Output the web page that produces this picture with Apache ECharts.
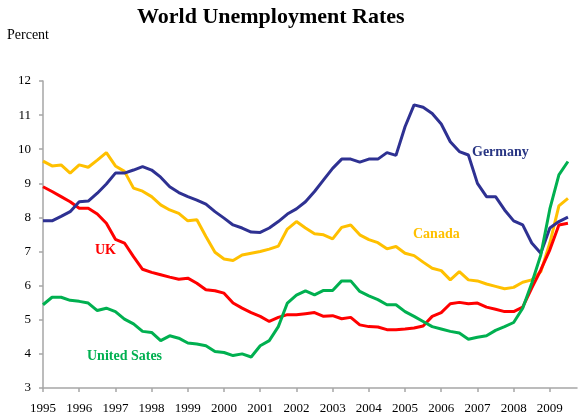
<!DOCTYPE html>
<html>
<head>
<meta charset="utf-8">
<script src="https://cdn.jsdelivr.net/npm/echarts@6/dist/echarts.min.js"></script>
<style>
html,body{margin:0;padding:0;background:#fff;}
#chart{width:579px;height:415px;}
</style>
</head>
<body>
<div id="chart"></div>
<script>
const quarters = [
 '1995Q1','1995Q2','1995Q3','1995Q4','1996Q1','1996Q2','1996Q3','1996Q4',
 '1997Q1','1997Q2','1997Q3','1997Q4','1998Q1','1998Q2','1998Q3','1998Q4',
 '1999Q1','1999Q2','1999Q3','1999Q4','2000Q1','2000Q2','2000Q3','2000Q4',
 '2001Q1','2001Q2','2001Q3','2001Q4','2002Q1','2002Q2','2002Q3','2002Q4',
 '2003Q1','2003Q2','2003Q3','2003Q4','2004Q1','2004Q2','2004Q3','2004Q4',
 '2005Q1','2005Q2','2005Q3','2005Q4','2006Q1','2006Q2','2006Q3','2006Q4',
 '2007Q1','2007Q2','2007Q3','2007Q4','2008Q1','2008Q2','2008Q3','2008Q4',
 '2009Q1','2009Q2','2009Q3','2009Q4'
];
const germany = [
 7.90,7.90,8.03,8.17,8.46,8.48,8.71,8.98,
 9.30,9.30,9.39,9.49,9.39,9.18,8.90,8.73,
 8.61,8.51,8.39,8.17,7.98,7.78,7.69,7.57,
 7.56,7.69,7.88,8.10,8.25,8.46,8.76,9.10,
 9.44,9.71,9.71,9.62,9.71,9.71,9.90,9.82,
 10.66,11.30,11.23,11.05,10.74,10.22,9.93,9.83,
 9.00,8.61,8.61,8.22,7.90,7.78,7.25,6.95,
 7.69,7.88,8.01,null
];
const canada = [
 9.65,9.51,9.54,9.30,9.54,9.47,9.68,9.90,
 9.51,9.35,8.86,8.77,8.61,8.37,8.22,8.12,
 7.90,7.93,7.44,6.98,6.78,6.74,6.90,6.95,
 7.00,7.07,7.16,7.66,7.88,7.69,7.52,7.49,
 7.37,7.71,7.78,7.49,7.35,7.26,7.08,7.15,
 6.95,6.88,6.69,6.51,6.44,6.17,6.41,6.17,
 6.14,6.05,5.98,5.91,5.95,6.10,6.17,6.41,
 7.25,8.34,8.56,null
];
const uk = [
 8.90,8.76,8.61,8.46,8.27,8.27,8.10,7.83,
 7.36,7.25,6.85,6.48,6.39,6.32,6.25,6.19,
 6.22,6.07,5.88,5.85,5.78,5.49,5.34,5.21,
 5.10,4.95,5.07,5.15,5.15,5.18,5.21,5.10,
 5.12,5.03,5.07,4.85,4.80,4.79,4.71,4.71,
 4.73,4.76,4.82,5.10,5.21,5.47,5.51,5.47,
 5.49,5.37,5.31,5.24,5.24,5.37,5.93,6.46,
 7.05,7.78,7.83,null
];
const unitedStates = [
 5.44,5.66,5.66,5.57,5.54,5.49,5.27,5.34,
 5.24,5.02,4.88,4.66,4.63,4.39,4.53,4.46,
 4.32,4.29,4.24,4.07,4.04,3.95,4.00,3.91,
 4.24,4.39,4.80,5.49,5.72,5.85,5.73,5.86,
 5.86,6.14,6.14,5.83,5.70,5.59,5.44,5.44,
 5.24,5.10,4.95,4.80,4.73,4.66,4.61,4.43,
 4.49,4.53,4.69,4.80,4.92,5.34,6.07,6.90,
 8.25,9.25,9.64,null
];
const yTicks = [3,4,5,6,7,8,9,10,11,12];

const NAVY = '#2E3192', YEL = '#FFC000', RED = '#FF0000', GRN = '#00B050';
const serif = '"Liberation Serif","Times New Roman",serif';
const axisGrey = '#A6A6A6';

const chart = echarts.init(document.getElementById('chart'), null, {renderer:'canvas'});
function mk(name, data, color){
  return {name, type:'line', data, symbol:'none', smooth:false, connectNulls:false,
    lineStyle:{color, width:3}, itemStyle:{color}, z:2};
}
const option = {
  animation:false,
  backgroundColor:'#fff',
  grid:{left:43, right:2, top:81, bottom:27, containLabel:false},
  xAxis:{
    type:'category', data:quarters, boundaryGap:false,
    axisLine:{lineStyle:{color:axisGrey, width:1.5}},
    axisTick:{length:4, interval:(i)=>i%4===0, lineStyle:{color:axisGrey, width:1.5}},
    axisLabel:{interval:(i)=>i%4===0, formatter:(v)=>v.slice(0,4), margin:14,
      fontFamily:serif, fontSize:13, color:'#000'},
    splitLine:{show:false}
  },
  yAxis:{
    type:'value', min:yTicks[0], max:yTicks[yTicks.length-1], interval:1,
    axisLine:{show:true, lineStyle:{color:axisGrey, width:1.5}},
    axisTick:{show:true, length:4, lineStyle:{color:axisGrey, width:1.5}},
    axisLabel:{margin:12, fontFamily:serif, fontSize:13, color:'#000'},
    splitLine:{show:false}
  },
  series:[
    mk('Canada', canada, YEL),
    mk('UK', uk, RED),
    mk('Germany', germany, NAVY),
    mk('United States', unitedStates, GRN)
  ],
  graphic:[
    {type:'text', left:137, top:6, style:{text:'World Unemployment Rates', font:'bold 22px '+serif, fill:'#000'}},
    {type:'text', left:7, top:28, style:{text:'Percent', font:'14px '+serif, fill:'#000'}},
    {type:'text', left:472, top:145, style:{text:'Germany', font:'bold 14px '+serif, fill:'#283583'}},
    {type:'text', left:413, top:227, style:{text:'Canada', font:'bold 14px '+serif, fill:YEL}},
    {type:'text', left:95, top:243, style:{text:'UK', font:'bold 14px '+serif, fill:RED}},
    {type:'text', left:87, top:349, style:{text:'United Sates', font:'bold 14px '+serif, fill:GRN}}
  ]
};
chart.setOption(option);
</script>
</body>
</html>
